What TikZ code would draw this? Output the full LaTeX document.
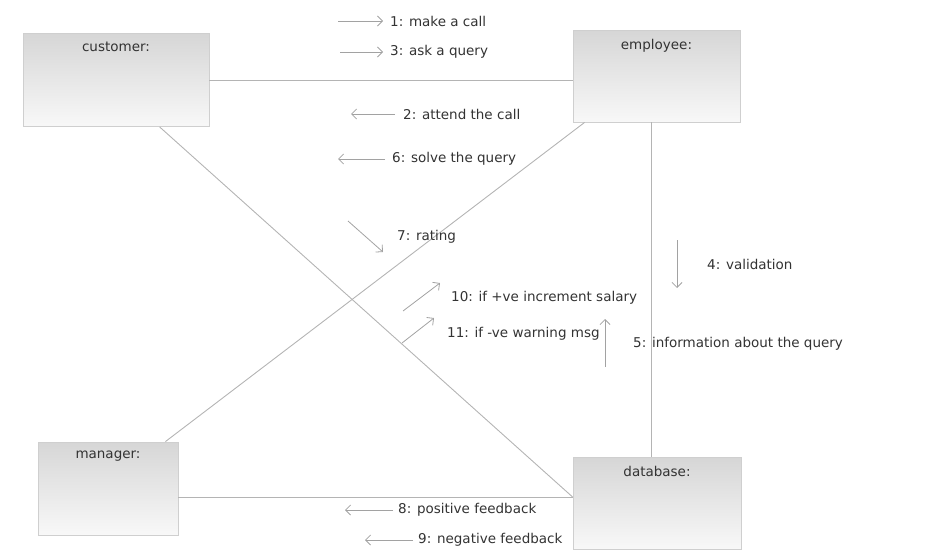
\documentclass[tikz,border=0pt]{standalone}
\usepackage{fontspec}
\setmainfont{DejaVu Sans}
\usetikzlibrary{arrows.meta,calc}
\definecolor{linec}{HTML}{B4B4B4}
\definecolor{txtc}{HTML}{333333}
\definecolor{boxtop}{HTML}{D6D6D6}
\definecolor{boxbot}{HTML}{F8F8F8}
\definecolor{boxdraw}{HTML}{CFCFCF}
\begin{document}
\begin{tikzpicture}[x=1pt,y=-1pt,
  objbox/.style={rectangle, draw=boxdraw, line width=0.8pt, top color=boxtop, bottom color=boxbot, inner sep=0pt},
  objlbl/.style={anchor=north, yshift=-9pt, inner sep=0pt, font=\fontsize{13.5}{15}\selectfont, text=txtc},
  link/.style={draw=linec, line width=0.9pt},
  msg/.style={draw=linec!90!black, line width=0.8pt, -{Straight Barb[length=5pt,width=10pt]}},
  msgtxt/.style={anchor=west, inner sep=0pt, font=\fontsize{13.5}{15}\selectfont, text=txtc}]
\useasboundingbox (0,0) rectangle (937,552);
% objects
\node[objbox, minimum width=186pt, minimum height=93pt, label={[objlbl]north:customer:}] (cust) at (116,80) {};
\node[objbox, minimum width=167pt, minimum height=92pt, label={[objlbl]north:employee:}] (emp) at (656.5,76) {};
\node[objbox, minimum width=140pt, minimum height=93pt, label={[objlbl]north:manager:}] (mgr) at (108,488.5) {};
\node[objbox, minimum width=168pt, minimum height=92pt, label={[objlbl]north:database:}] (db) at (657,503) {};
% links
\draw[link] (cust.east) -- (cust.east -| emp.west);
\draw[link] ([xshift=12pt]emp.south west) -- ([xshift=-13pt]mgr.north east);
\draw[link] ([xshift=-5.5pt]emp.south) -- ([xshift=-6pt]db.north);
\draw[link] ([yshift=-8.5pt]mgr.east) -- ([yshift=6pt]db.west);
\draw[link] ([xshift=137pt]cust.south west) -- ([yshift=6pt]db.west);
% messages
\node[msgtxt] (t1) at (390,21) {1: make a call};
\draw[msg] ($(t1.west)+(-52,0)$) -- ($(t1.west)+(-7,0)$);
\node[msgtxt] (t3) at (390,52) {3: ask a query};
\draw[msg] ($(t3.west)+(-50,0)$) -- ($(t3.west)+(-7,0)$);
\node[msgtxt] (t2) at (403,114) {2: attend the call};
\draw[msg] ($(t2.west)+(-8,0)$) -- ($(t2.west)+(-52,0)$);
\node[msgtxt] (t6) at (392,159) {6: solve the query};
\draw[msg] ($(t6.west)+(-7,0)$) -- ($(t6.west)+(-54,0)$);
\node[msgtxt] (t7) at (397,237) {7: rating};
\draw[msg] ($(t7.west)+(-49,-16)$) -- ($(t7.west)+(-14,15)$);
\node[msgtxt] (t10) at (451,298) {10: if +ve increment salary};
\draw[msg] ($(t10.west)+(-48,13)$) -- ($(t10.west)+(-11,-15)$);
\node[msgtxt] (t11) at (447,334) {11: if -ve warning msg};
\draw[msg] ($(t11.west)+(-45,9)$) -- ($(t11.west)+(-13,-16)$);
\node[msgtxt] (t4) at (707,264) {4: validation};
\draw[msg] ($(t4.west)+(-30,-24)$) -- ($(t4.west)+(-30,24)$);
\node[msgtxt] (t5) at (633,344) {5: information about the query};
\draw[msg] ($(t5.west)+(-28,23)$) -- ($(t5.west)+(-28,-25)$);
\node[msgtxt] (t8) at (398,510) {8: positive feedback};
\draw[msg] ($(t8.west)+(-5,0)$) -- ($(t8.west)+(-53,0)$);
\node[msgtxt] (t9) at (418,540) {9: negative feedback};
\draw[msg] ($(t9.west)+(-5,0)$) -- ($(t9.west)+(-53,0)$);
\end{tikzpicture}
\end{document}
